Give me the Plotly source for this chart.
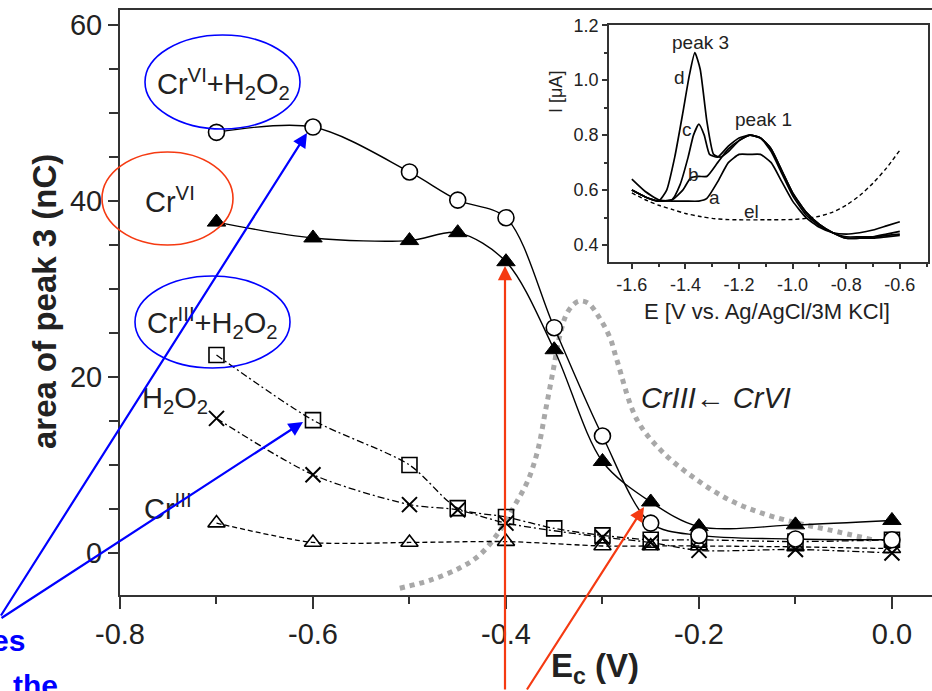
import plotly.graph_objects as go

# ---------------- main chart data ----------------
ec = [-0.7, -0.6, -0.5, -0.45, -0.4, -0.35, -0.3, -0.25, -0.2, -0.1, 0.0]
crvi_h2o2 = [47.8, 48.4, 43.3, 40.1, 38.1, 25.6, 13.3, 3.4, 2.0, 1.6, 1.5]
crvi = [37.6, 35.8, 35.5, 36.4, 33.1, 23.1, 10.4, 5.8, 3.0, 3.2, 3.7]
criii_h2o2 = [22.5, 15.1, 10.0, 5.1, 4.1, 2.8, 2.0, 1.5, 1.5, 1.3, 1.5]
ec_h2o2 = [-0.7, -0.6, -0.5, -0.45, -0.4, -0.3, -0.25, -0.2, -0.1, 0.0]
h2o2 = [15.3, 8.9, 5.5, 4.9, 3.4, 1.8, 1.2, 0.3, 0.4, 0.0]
ec_criii = [-0.7, -0.6, -0.5, -0.4, -0.3, -0.25, -0.2, -0.1, 0.0]
criii = [3.4, 1.2, 1.2, 1.3, 0.8, 0.8, 0.8, 0.7, 0.5]

# reduction wave CrIII <- CrVI (grey dotted)
wave_x = [-0.510, -0.479, -0.448, -0.427, -0.406, -0.391, -0.377, -0.367, -0.359,
          -0.351, -0.344, -0.336, -0.325, -0.315, -0.303, -0.292, -0.285, -0.264,
          -0.237, -0.202, -0.168, -0.134, -0.098, -0.064, -0.020]
wave_y = [-4.0, -3.1, -1.7, -0.2, 2.6, 5.4, 8.3, 11.7, 16.2,
          20.8, 24.8, 27.4, 28.6, 28.4, 26.7, 24.4, 21.9, 15.1,
          11.4, 8.3, 6.0, 4.5, 3.4, 2.6, 1.5]

x_ticks = [-0.8, -0.6, -0.4, -0.2, 0.0]
x_ticktext = ["-0.8", "-0.6", "-0.4", "-0.2", "0.0"]
y_ticks = [0, 20, 40, 60]

# ---------------- inset data ----------------
d_E = [-1.60, -1.55, -1.50, -1.47, -1.44, -1.41, -1.385, -1.365, -1.345, -1.32, -1.295,
       -1.27, -1.24, -1.20, -1.16, -1.12, -1.08, -1.04, -1.00, -0.95, -0.90, -0.85,
       -0.80, -0.75, -0.70, -0.65, -0.60]
d_I = [0.60, 0.575, 0.56, 0.60, 0.72, 0.88, 1.02, 1.10, 1.04, 0.85, 0.73,
       0.72, 0.74, 0.78, 0.80, 0.79, 0.74, 0.66, 0.58, 0.51, 0.47, 0.445,
       0.43, 0.43, 0.43, 0.435, 0.44]
c_E = [-1.60, -1.55, -1.50, -1.45, -1.42, -1.39, -1.37, -1.35, -1.33, -1.31, -1.28,
       -1.24, -1.20, -1.16, -1.12, -1.08, -1.04, -1.00, -0.95, -0.90, -0.85, -0.80,
       -0.75, -0.70, -0.65, -0.60]
c_I = [0.60, 0.575, 0.56, 0.565, 0.62, 0.72, 0.80, 0.84, 0.80, 0.73, 0.72,
       0.76, 0.79, 0.80, 0.79, 0.75, 0.67, 0.59, 0.52, 0.475, 0.445, 0.425,
       0.425, 0.425, 0.43, 0.435]
b_E = [-1.60, -1.55, -1.50, -1.45, -1.41, -1.38, -1.35, -1.32, -1.28, -1.24, -1.20,
       -1.16, -1.12, -1.08, -1.04, -1.00, -0.95, -0.90, -0.85, -0.80, -0.75, -0.70,
       -0.65, -0.60]
b_I = [0.60, 0.575, 0.56, 0.565, 0.60, 0.645, 0.65, 0.65, 0.70, 0.75, 0.78,
       0.80, 0.79, 0.75, 0.67, 0.59, 0.52, 0.475, 0.445, 0.425, 0.425, 0.43,
       0.44, 0.45]
a_E = [-1.60, -1.55, -1.50, -1.45, -1.40, -1.35, -1.32, -1.28, -1.24, -1.20, -1.16,
       -1.12, -1.08, -1.04, -1.00, -0.95, -0.90, -0.85, -0.80, -0.75, -0.70, -0.65,
       -0.60]
a_I = [0.64, 0.595, 0.565, 0.56, 0.56, 0.56, 0.57, 0.63, 0.70, 0.73, 0.73,
       0.73, 0.70, 0.63, 0.56, 0.50, 0.465, 0.445, 0.44, 0.445, 0.455, 0.47,
       0.485]
el_E = [-1.60, -1.55, -1.50, -1.45, -1.40, -1.35, -1.30, -1.25, -1.20, -1.10, -1.00,
        -0.95, -0.90, -0.85, -0.80, -0.75, -0.70, -0.65, -0.60]
el_I = [0.59, 0.565, 0.545, 0.53, 0.515, 0.505, 0.497, 0.493, 0.492, 0.492, 0.493,
        0.497, 0.505, 0.52, 0.545, 0.58, 0.625, 0.68, 0.745]

in_x_ticks = [-1.6, -1.4, -1.2, -1.0, -0.8, -0.6]
in_x_ticktext = ["-1.6", "-1.4", "-1.2", "-1.0", "-0.8", "-0.6"]
in_y_ticks = [0.4, 0.6, 0.8, 1.0, 1.2]
in_y_ticktext = ["0.4", "0.6", "0.8", "1.0", "1.2"]

# ---------------- layout helpers ----------------
W, H = 932, 691
L, T, R, B = 120, 10, 0, 96


def px(x):
    return (x - L) / (W - L - R)


def py(y):
    return (H - B - y) / (H - T - B)


FONT = "Liberation Sans, Arial, sans-serif"
INK = "#222222"
BLUE = "#0000FF"
RED = "#F53A12"

fig = go.Figure()

# grey reduction wave
fig.add_trace(go.Scatter(x=wave_x, y=wave_y, mode="lines", line=dict(color="#A8A8A8", width=5, dash="dot", shape="spline"),
                         hoverinfo="skip", showlegend=False))

# series
fig.add_trace(go.Scatter(x=ec_criii, y=criii, mode="lines+markers",
                         line=dict(color="black", width=1.3, dash="5px,3px", shape="spline", smoothing=0.7),
                         marker=dict(symbol="triangle-up-open", size=15, color="black", line=dict(width=1.6, color="black")),
                         showlegend=False))
fig.add_trace(go.Scatter(x=ec_h2o2, y=h2o2, mode="lines+markers",
                         line=dict(color="black", width=1.3, dash="7px,3px,2px,3px", shape="spline", smoothing=0.8),
                         marker=dict(symbol="x-thin-open", size=15, color="black", line=dict(width=2, color="black")),
                         showlegend=False))
fig.add_trace(go.Scatter(x=ec, y=criii_h2o2, mode="lines+markers",
                         line=dict(color="black", width=1.3, dash="7px,3px,2px,3px", shape="spline", smoothing=0.8),
                         marker=dict(symbol="square-open", size=15, color="black", line=dict(width=1.6, color="black")),
                         showlegend=False))
fig.add_trace(go.Scatter(x=ec, y=crvi, mode="lines+markers",
                         line=dict(color="black", width=1.4, shape="spline", smoothing=0.9),
                         marker=dict(symbol="triangle-up", size=16, color="black", line=dict(width=1, color="black")),
                         showlegend=False))
fig.add_trace(go.Scatter(x=ec, y=crvi_h2o2, mode="lines+markers",
                         line=dict(color="black", width=1.4, shape="spline", smoothing=0.9),
                         marker=dict(symbol="circle", size=16, color="white", line=dict(width=1.6, color="black")),
                         showlegend=False))

# inset curves
for E, I in [(a_E, a_I), (b_E, b_I), (c_E, c_I), (d_E, d_I)]:
    fig.add_trace(go.Scatter(x=E, y=I, xaxis="x2", yaxis="y2", mode="lines",
                             line=dict(color="black", width=1.7, shape="spline", smoothing=0.5),
                             showlegend=False))
fig.add_trace(go.Scatter(x=el_E, y=el_I, xaxis="x2", yaxis="y2", mode="lines",
                         line=dict(color="black", width=1.4, dash="4px,3px", shape="spline", smoothing=0.5),
                         showlegend=False))

axis_common = dict(showgrid=False, zeroline=False, showline=True, linecolor="#333333",
                   ticks="outside", tickcolor="#333333")

fig.update_layout(
    width=W, height=H,
    margin=dict(l=L, r=R, t=T, b=B),
    paper_bgcolor="white", plot_bgcolor="white",
    font=dict(family=FONT, color=INK),
    xaxis=dict(**axis_common, range=[-0.8, 0.0415], linewidth=2, mirror=True,
               tickmode="array", tickvals=x_ticks, ticktext=x_ticktext, ticklen=12, tickwidth=2,
               tickfont=dict(size=29, color=INK),
               minor=dict(dtick=0.1, tick0=-0.8, ticks="outside", ticklen=7, tickwidth=2, tickcolor="#333333")),
    yaxis=dict(**axis_common, range=[-4.77, 61.7], linewidth=2,
               tickmode="array", tickvals=y_ticks, ticklen=10, tickwidth=2,
               tickfont=dict(size=29, color=INK),
               minor=dict(dtick=5, tick0=0, ticks="outside", ticklen=9, tickwidth=2, tickcolor="#333333")),
    xaxis2=dict(**axis_common, domain=[0.602, 0.995], anchor="y2", range=[-1.686, -0.495],
                linewidth=1.6, mirror=True, tickmode="array", tickvals=in_x_ticks, ticktext=in_x_ticktext,
                ticklen=5, tickwidth=1.5, tickfont=dict(size=18, color=INK),
                minor=dict(dtick=0.1, tick0=-1.6, ticks="outside", ticklen=3, tickwidth=1.5, tickcolor="#333333")),
    yaxis2=dict(**axis_common, domain=[0.569, 0.974], anchor="x2", range=[0.338, 1.2],
                linewidth=1.6, mirror=True, tickmode="array", tickvals=in_y_ticks, ticktext=in_y_ticktext,
                ticklen=5, tickwidth=1.5, tickfont=dict(size=18, color=INK),
                minor=dict(dtick=0.1, tick0=0.4, ticks="outside", ticklen=3, tickwidth=1.5, tickcolor="#333333")),
)

shapes = [
    dict(type="circle", xref="paper", yref="paper", x0=px(145), x1=px(300), y0=py(129), y1=py(35),
         line=dict(color=BLUE, width=1.6)),
    dict(type="circle", xref="paper", yref="paper", x0=px(102), x1=px(233), y0=py(245), y1=py(152),
         line=dict(color=RED, width=1.6)),
    dict(type="circle", xref="paper", yref="paper", x0=px(135), x1=px(290), y0=py(368), y1=py(276),
         line=dict(color=BLUE, width=1.6)),
]
fig.update_layout(shapes=shapes)

ann = []


def text(x, y, s, size=29, color=INK, xanchor="center", yanchor="middle", angle=0):
    ann.append(dict(x=px(x), y=py(y), xref="paper", yref="paper", text=s, showarrow=False,
                    font=dict(size=size, color=color, family=FONT), xanchor=xanchor, yanchor=yanchor,
                    textangle=angle))


def arrow(hx, hy, tx, ty, color):
    ann.append(dict(x=px(hx), y=py(hy), xref="paper", yref="paper", text="", showarrow=True,
                    ax=tx - hx, ay=ty - hy, arrowhead=2, arrowsize=1.3, arrowwidth=2.2, arrowcolor=color))


text(223, 84, "Cr<sup>VI</sup>+H<sub>2</sub>O<sub>2</sub>")
text(170, 200, "Cr<sup>VI</sup>")
text(212, 323, "Cr<sup>III</sup>+H<sub>2</sub>O<sub>2</sub>")
text(175, 400, "H<sub>2</sub>O<sub>2</sub>")
text(168, 507, "Cr<sup>III</sup>")
text(716, 398, "<i>CrIII\u2190 CrVI</i>", size=29)

# axis titles
text(44, 302, "<b>area of peak 3 (nC)</b>", size=33, angle=-90)
text(595, 668, "<b>E<sub>c</sub> (V)</b>", size=33)

# inset texts
text(700, 42, "peak 3", size=19)
text(763, 119, "peak 1", size=19)
text(679, 77, "d", size=19)
text(687, 129, "c", size=19)
text(693, 174, "b", size=19)
text(714, 198, "a", size=19)
text(751, 211, "el", size=19)
text(556, 92, "I [\u03bcA]", size=18, angle=-90)
text(767, 312, "E [V vs. Ag/AgCl/3M KCl]", size=22)

# blue fragments at lower left
text(27, 640, "<b>es</b>", size=30, color=BLUE, xanchor="right")
text(60, 686, "<b>the</b>", size=30, color=BLUE, xanchor="right")

# arrows
arrow(307, 133, -10, 617, BLUE)
arrow(303, 422, -10, 619, BLUE)
arrow(505, 266, 505, 700, RED)
arrow(644, 507, 526, 698, RED)

fig.update_layout(annotations=ann)

fig.write_html("out.html")
